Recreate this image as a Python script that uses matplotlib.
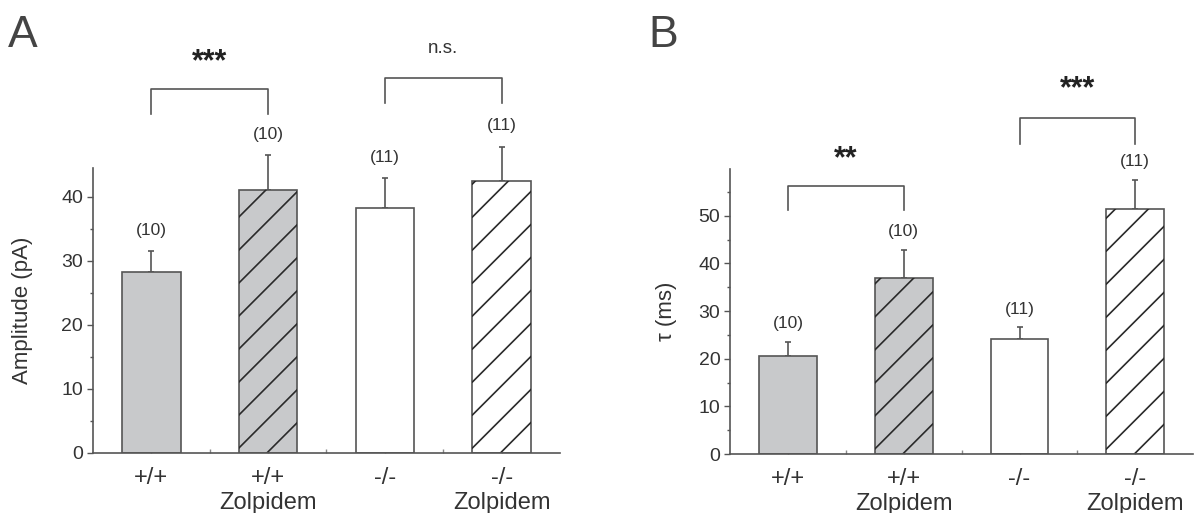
import numpy as np
import matplotlib
matplotlib.use("Agg")
import matplotlib.pyplot as plt
from matplotlib.ticker import MultipleLocator
from matplotlib.transforms import IdentityTransform

plt.rcParams["font.family"] = ["Liberation Sans", "DejaVu Sans"]

# ============================================================================
# DATA
# ============================================================================

groups = ["+/+", "+/+\nZolpidem", "-/-", "-/-\nZolpidem"]
n_cells = ["(10)", "(10)", "(11)", "(11)"]

amp_mean = [28.3, 41.1, 38.2, 42.4]
amp_sem = [3.2, 5.4, 4.7, 5.4]

tau_mean = [20.6, 36.9, 24.1, 51.5]
tau_sem = [2.9, 6.0, 2.5, 6.0]

# comparisons: (left bar, right bar, bracket top, leg bottom, label, label height)
amp_tests = [(0, 1, 56.8, 53.0, "***", 61.0), (2, 3, 58.5, 54.7, "n.s.", 63.2)]
tau_tests = [(0, 1, 56.2, 51.1, "**", 61.8), (2, 3, 70.4, 65.1, "***", 76.6)]

# ============================================================================
# STYLE
# ============================================================================

GRAY_FILL = "#c8c9cb"
EDGE = "#555555"
TEXT = "#333333"
hatched = [False, True, False, True]
fills = [GRAY_FILL, GRAY_FILL, "white", "white"]
HATCH_STEP = 33  # pixels between hatch lines

fig = plt.figure(figsize=(11.95, 5.13), dpi=100)
ax_a = fig.add_axes([0.0778, 0.117, 0.3908, 0.5556])
ax_b = fig.add_axes([0.6109, 0.115, 0.3876, 0.5556])


def draw_hatch(ax, patch, phase):
    # sparse 45-degree hatch, drawn in pixel space and clipped to the bar
    x0, y0 = patch.get_xy()
    (X0, Y0), (X1, Y1) = ax.transData.transform(
        [[x0, y0], [x0 + patch.get_width(), y0 + patch.get_height()]])
    n = int((Y1 - Y0 + X1 - X0) / HATCH_STEP) + 2
    for k in range(-n, n):
        c = Y0 + phase + k * HATCH_STEP
        line = plt.Line2D([X0, X1], [c, c + (X1 - X0)], color="#2a2a2a",
                          linewidth=1.2, transform=IdentityTransform(), zorder=2.5)
        ax.add_line(line)
        line.set_clip_path(patch)


def panel(ax, means, sems, ymax, ylabel, tests, label_px):
    x = np.arange(len(groups))
    ax.set_xlim(-0.5, 3.5)
    ax.set_ylim(0, ymax)
    bars = ax.bar(x, means, width=0.5, color=fills, edgecolor=EDGE,
                  linewidth=1.2, zorder=2)
    ax.errorbar(x, means, yerr=[np.zeros(len(sems)), sems], fmt="none",
                ecolor=EDGE, elinewidth=1.2, capsize=2, capthick=1.2,
                clip_on=False, zorder=1)
    for b, h in zip(bars, hatched):
        if h:
            draw_hatch(ax, b, 5)

    for xi, m, s, n in zip(x, means, sems, n_cells):
        ax.annotate(n, (xi, m + s), xytext=(0, label_px), textcoords="offset pixels",
                    ha="center", va="center", fontsize=12.5, color=TEXT,
                    annotation_clip=False)

    for i, j, top, leg, lab, ly in tests:
        ax.plot([x[i], x[i], x[j], x[j]], [leg, top, top, leg], color=EDGE,
                linewidth=1.2, clip_on=False)
        if lab.startswith("*"):
            ax.text((x[i] + x[j]) / 2, ly, lab, ha="center", va="center",
                    fontsize=22, fontweight="bold", color="#222222", clip_on=False)
        else:
            ax.text((x[i] + x[j]) / 2, ly, lab, ha="center", va="center",
                    fontsize=13.5, color=TEXT, clip_on=False)

    for side in ("top", "right"):
        ax.spines[side].set_visible(False)
    for side in ("left", "bottom"):
        ax.spines[side].set_color(EDGE)
        ax.spines[side].set_linewidth(1.2)

    ax.yaxis.set_major_locator(MultipleLocator(10))
    ax.yaxis.set_minor_locator(MultipleLocator(5))
    ax.tick_params(axis="y", which="major", direction="out", length=4, width=1,
                   color=EDGE, labelsize=14, labelcolor=TEXT, pad=3)
    ax.tick_params(axis="y", which="minor", direction="out", length=2, width=1,
                   color=EDGE)

    ax.set_xticks(x)
    ax.set_xticks(x[:-1] + 0.5, minor=True)
    ax.set_xticklabels(groups, fontsize=17, color=TEXT, linespacing=1.2)
    ax.tick_params(axis="x", which="both", direction="in", length=3, width=1,
                   color="#888888", pad=10)

    ax.set_ylabel(ylabel, fontsize=16, color=TEXT)


panel(ax_a, amp_mean, amp_sem, 44.5, "Amplitude (pA)", amp_tests, 21)
ax_a.yaxis.set_label_coords(-0.128, 0.5)
panel(ax_b, tau_mean, tau_sem, 59.8, "τ (ms)", tau_tests, 18)
ax_b.yaxis.set_label_coords(-0.114, 0.5)

fig.text(8 / 1195, 1 - 47 / 513, "A", fontsize=32, color="#444444", va="baseline")
fig.text(648 / 1195, 1 - 47 / 513, "B", fontsize=32, color="#444444", va="baseline")

fig.savefig("out.png", dpi=100)
